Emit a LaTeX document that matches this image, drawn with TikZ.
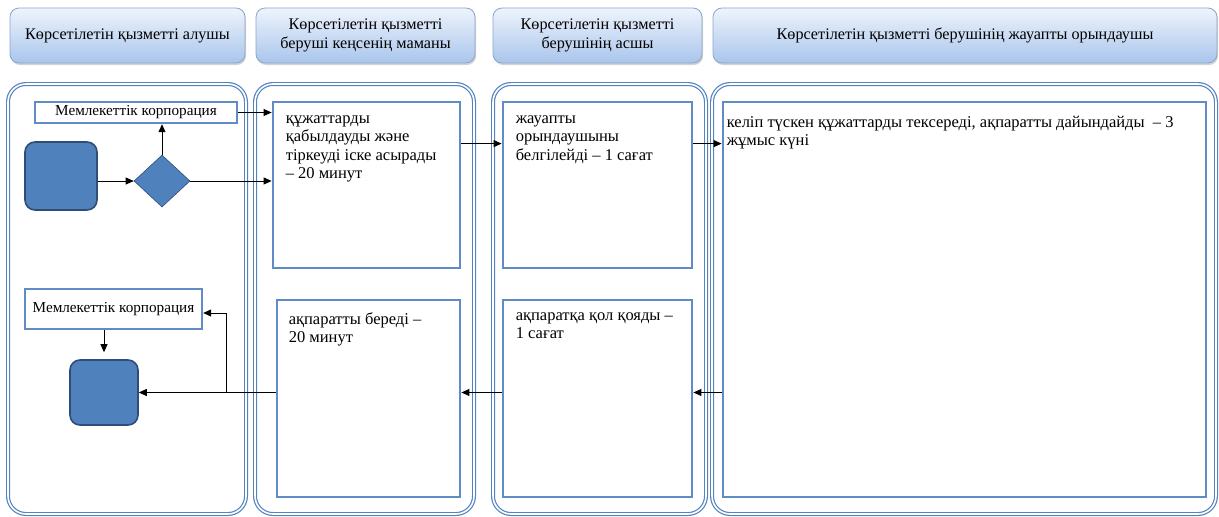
\documentclass[tikz,border=0pt]{standalone}
\usepackage{fontspec}
\setmainfont{Liberation Serif}
\usetikzlibrary{arrows.meta,shapes.geometric,shadows}
\definecolor{lanec}{HTML}{5384C0}
\definecolor{boxc}{HTML}{5F8CC4}
\definecolor{hdtop}{HTML}{EEF4FC}
\definecolor{hdbot}{HTML}{A9C5EC}
\definecolor{hddraw}{HTML}{8AA6CB}
\definecolor{blk}{HTML}{4F81BD}
\definecolor{blkdraw}{HTML}{2E4E77}
\tikzset{
  header/.style={draw=hddraw, line width=0.8pt, rounded corners=9pt, top color=hdtop, bottom color=hdbot,
    drop shadow={shadow xshift=1pt, shadow yshift=-2pt, opacity=0.35}, align=center,
    font=\fontsize{16.2}{18.5}\selectfont, inner sep=0pt},
  lane/.style={draw=lanec, double=white, double distance=1.6pt, line width=1.2pt, rounded corners=18pt, inner sep=0pt},
  inbox/.style={draw=boxc, line width=2.8pt, fill=white, inner sep=0pt},
  blockr/.style={draw=blkdraw, line width=1.6pt, fill=blk, rounded corners=10pt, inner sep=0pt},
  dmd/.style={diamond, draw=blkdraw, line width=0.6pt, fill=blk, inner sep=0pt, aspect=1.07},
  txt/.style={anchor=north west, align=left, inner sep=0pt, font=\fontsize{16.5}{18.3}\selectfont},
  corptxt/.style={font=\fontsize{15.2}{17}\selectfont},
  arr/.style={draw=black, line width=0.9pt, -{Triangle[length=8pt,width=7pt]}},
  ln/.style={draw=black, line width=0.9pt}
}
\begin{document}
\begin{tikzpicture}[x=1pt,y=-1pt]
\useasboundingbox (0,0) rectangle (1219,517);
% headers
\node[header, minimum width=235, minimum height=55] (h1) at (127.5,35.5) {Көрсетілетін қызметті алушы};
\node[header, minimum width=219, minimum height=55] (h2) at (365.5,35.5) {Көрсетілетін қызметті\\беруші кеңсенің маманы};
\node[header, minimum width=209, minimum height=55] (h3) at (597.5,35.5) {Көрсетілетін қызметті\\берушінің асшы};
\node[header, minimum width=504, minimum height=55] (h4) at (965,35.5) {Көрсетілетін қызметті берушінің жауапты орындаушы};
% lanes
\node[lane, minimum width=238, minimum height=430] (lane1) at (127,299) {};
\node[lane, minimum width=219, minimum height=430] (lane2) at (364.5,299) {};
\node[lane, minimum width=213, minimum height=430] (lane3) at (599.5,299) {};
\node[lane, minimum width=504, minimum height=430] (lane4) at (964,299) {};
% lane 1
\node[inbox, line width=2.4pt, minimum width=202, minimum height=21, corptxt] (corp1) at (136,112.5) {Мемлекеттік корпорация};
\node[blockr, minimum width=72, minimum height=68] (start) at (61,176) {};
\node[dmd, minimum width=56, minimum height=52] (dia) at (162,181) {};
\node[inbox, line width=2.4pt, minimum width=177, minimum height=40, corptxt] (corp2) at (113.5,309) {Мемлекеттік корпорация};
\node[blockr, minimum width=68, minimum height=65] (end) at (104,392.5) {};
% process boxes
\node[inbox, minimum width=187, minimum height=166] (b2) at (366.5,185) {};
\node[inbox, minimum width=189, minimum height=166] (b3) at (597.5,185) {};
\node[inbox, minimum width=483, minimum height=395] (b4) at (964.5,299.5) {};
\node[inbox, minimum width=183, minimum height=197] (b5) at (368.5,398.5) {};
\node[inbox, minimum width=189, minimum height=197] (b6) at (597.5,398.5) {};
% texts
\node[txt] (t2) at ([xshift=14pt,yshift=-15pt]b2.north west) {құжаттарды\\қабылдауды және\\тіркеуді іске асырады\\– 20 минут};
\node[txt] (t3) at ([xshift=14pt,yshift=-15pt]b3.north west) {жауапты\\орындаушыны\\белгілейді – 1 сағат};
\node[txt] (t4) at ([xshift=5pt,yshift=-15pt]b4.north west) {келіп түскен құжаттарды тексереді, ақпаратты дайындайды \ – 3\\жұмыс күні};
\node[txt] (t5) at ([xshift=13pt,yshift=-14pt]b5.north west) {ақпаратты береді –\\20 минут};
\node[txt] (t6) at ([xshift=14pt,yshift=-14pt]b6.north west) {ақпаратқа қол қояды –\\1 сағат};
% connectors
\draw[arr] (start.east |- dia.west) -- (dia.west);
\draw[arr] (dia.north) -- (dia.north |- corp1.south);
\draw[arr] (dia.east) -- (dia.east -| b2.west);
\draw[arr] (corp1.east) -- (corp1.east -| b2.west);
\draw[arr] ([yshift=-43pt]b2.north east) -- ([yshift=-43pt]b2.north east -| b3.west);
\draw[arr] ([yshift=-43pt]b3.north east) -- ([yshift=-43pt]b3.north east -| b4.west);
\draw[arr] (b4.west |- end.east) -- (b6.east |- end.east);
\draw[arr] (b6.west |- end.east) -- (b5.east |- end.east);
\draw[arr] (b5.west |- end.east) -- (end.east);
\coordinate (br) at (226,392.5);
\draw[arr] (br) |- ([yshift=-4pt]corp2.east);
\draw[arr, shorten >=7pt] (corp2.south -| end.north) -- (end.north);
\end{tikzpicture}
\end{document}
